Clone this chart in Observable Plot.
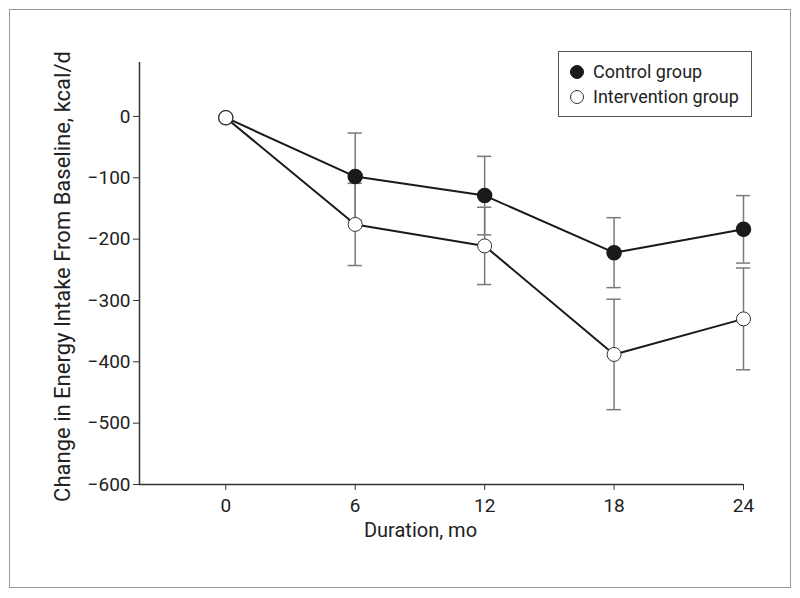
<!DOCTYPE html>
<html><head><meta charset="utf-8">
<script src="https://cdn.jsdelivr.net/npm/d3@7"></script>
<script src="https://cdn.jsdelivr.net/npm/@observablehq/plot@0.6"></script>
<style>
body{margin:0;background:#fff;}
#wrap{position:relative;width:800px;height:598px;overflow:hidden;font-family:Roboto,"Liberation Sans",sans-serif;color:#222;}
#border{position:absolute;left:9px;top:9px;width:780px;height:577px;border:1.5px solid #9a9a9a;}
#chart{position:absolute;left:0;top:0;}
#legend{position:absolute;left:558px;top:51px;width:194px;height:66px;border:1.2px solid #555;box-sizing:border-box;font-size:18px;line-height:25px;padding-top:7px;padding-left:11px;background:#fff;white-space:nowrap;}
#legend .row{display:flex;align-items:center;}
#legend .dot{display:inline-block;width:14px;height:14px;border-radius:50%;margin-right:9px;box-sizing:border-box;}
</style></head>
<body>
<div id="wrap"><div id="border"></div><div id="chart"></div>
<div id="legend">
<div class="row"><span class="dot" style="background:#1a1a1a;border:1px solid #1a1a1a"></span>Control group</div>
<div class="row"><span class="dot" style="background:#fff;border:1px solid #333"></span>Intervention group</div>
</div></div>
<script>
const months = [0, 6, 12, 18, 24];
const controlMean = [-2, -98, -129, -222, -184];
const controlSE = [0, 71, 64, 57, 55];
const interventionMean = [-2, -176, -211, -388, -330];
const interventionSE = [0, 67, 63, 90, 83];
const xTicks = [0, 6, 12, 18, 24];
const yTicks = [0, -100, -200, -300, -400, -500, -600];

const rows = (group, means, ses) => months.map((m, i) => ({group, month: m, mean: means[i], lo: means[i] - ses[i], hi: means[i] + ses[i], se: ses[i]}));
const control = rows("Control group", controlMean, controlSE);
const intervention = rows("Intervention group", interventionMean, interventionSE);
const errs = [...control, ...intervention].filter(d => d.se > 0);
const capHalf = 0.33; // half cap width in months
const caps = errs.flatMap(d => [{month: d.month, v: d.lo}, {month: d.month, v: d.hi}]);

const font = 'Roboto,"Liberation Sans",sans-serif';
const chart = Plot.plot({
  width: 800, height: 598,
  marginLeft: 139, marginRight: 57, marginTop: 62, marginBottom: 114,
  style: {fontFamily: font, fontSize: "19px", color: "#222", background: "transparent"},
  x: {type: "linear", domain: [-4, 24]},
  y: {type: "linear", domain: [-600, 88]},
  marks: [
    Plot.ruleX(errs, {x: "month", y1: "lo", y2: "hi", stroke: "#7a7a7a", strokeWidth: 1.5}),
    Plot.ruleY(caps, {y: "v", x1: d => d.month - capHalf, x2: d => d.month + capHalf, stroke: "#7a7a7a", strokeWidth: 1.5}),
    Plot.axisX({ticks: xTicks, tickSize: 6, tickPadding: 8, label: null, stroke: "#333", fontSize: 19}),
    Plot.axisY({ticks: yTicks, tickSize: 6, tickPadding: 3, label: null, stroke: "#333", fontSize: 19}),
    Plot.ruleY([-600], {stroke: "#333", strokeWidth: 1.5}),
    Plot.ruleX([-4], {stroke: "#333", strokeWidth: 1.5}),
    Plot.line(control, {x: "month", y: "mean", stroke: "#1a1a1a", strokeWidth: 2}),
    Plot.line(intervention, {x: "month", y: "mean", stroke: "#1a1a1a", strokeWidth: 2}),
    Plot.dot(control, {x: "month", y: "mean", r: 7, fill: "#1a1a1a", stroke: "#1a1a1a"}),
    Plot.dot(intervention, {x: "month", y: "mean", r: 7, fill: "#fff", stroke: "#333", strokeWidth: 1}),
    Plot.text(["Duration, mo"], {frameAnchor: "bottom", dx: -21, dy: 52, fontSize: 20, fill: "#222"}),
    Plot.text(["Change in Energy Intake From Baseline, kcal/d"], {frameAnchor: "left", textAnchor: "middle", dx: -77, dy: 3, rotate: -90, fontSize: 22, fill: "#222"})
  ]
});
document.getElementById("chart").appendChild(chart);
</script>
</body></html>
